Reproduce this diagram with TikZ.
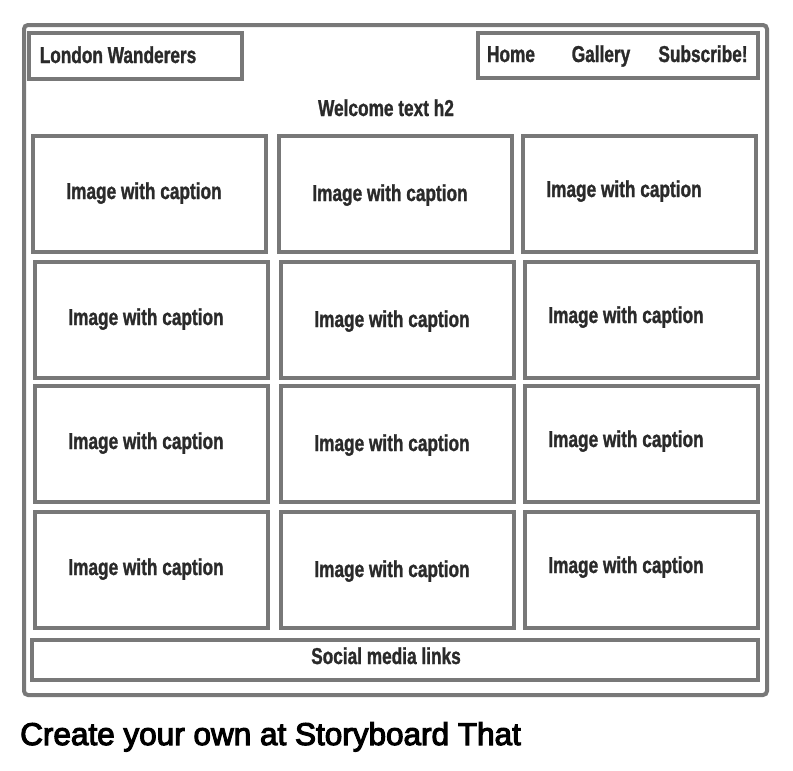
\documentclass[tikz,border=0pt]{standalone}
\usepackage{fontspec}
\setmainfont{Liberation Sans}
\newfontfamily\condfont[FakeStretch=0.75,FakeBold=1.2]{Liberation Sans Bold}
\newfontfamily\footfont[FakeBold=3.5]{Liberation Sans}
\definecolor{frame}{HTML}{787878}
\definecolor{ink}{HTML}{2A2A2A}
\tikzset{
  box/.style={draw=frame, line width=4pt, inner sep=0pt, fill=white},
  boxtext/.style={font=\condfont\fontsize{23}{23}\selectfont, text=ink, inner sep=0pt, anchor=base},
}
\newcommand{\pbox}[5]{% name, x1,y1,x2,y2
  \node[box, minimum width={(#4-#2)*1pt}, minimum height={(#5-#3)*1pt}] (#1) at ({(#2+#4)/2}, {(#3+#5)/2}) {};}
\begin{document}
\begin{tikzpicture}[x=1pt, y=-1pt]
\useasboundingbox (0,0) rectangle (793,771);
\fill[white] (0,0) rectangle (793,771);
% outer frame
\draw[draw=frame, line width=4pt, rounded corners=4pt] (24,25) rectangle (767,695);
\pbox{logo}{29}{33}{242}{79}
\pbox{nav}{478}{33}{758}{78}
\node[boxtext] (logot) at (118,63) {London Wanderers};
\node[boxtext] (home) at (511,62) {Home};
\node[boxtext] (gallery) at (601,62) {Gallery};
\node[boxtext] (subscribe) at (703,62) {Subscribe!};
\node[boxtext] (welcome) at (386,116) {Welcome text h2};
% row 1
\pbox{c11}{33}{136}{266}{252}
\pbox{c12}{279}{136}{512}{252}
\pbox{c13}{523}{136}{756}{252}
\node[boxtext] (t11) at (144,199) {Image with caption};
\node[boxtext] (t12) at (390,201) {Image with caption};
\node[boxtext] (t13) at (624,197) {Image with caption};
% row 2
\pbox{c21}{35}{262}{268}{378}
\pbox{c22}{281}{262}{514}{378}
\pbox{c23}{525}{262}{758}{378}
\node[boxtext] (t21) at (146,325) {Image with caption};
\node[boxtext] (t22) at (392,327) {Image with caption};
\node[boxtext] (t23) at (626,323) {Image with caption};
% row 3
\pbox{c31}{35}{386}{268}{502}
\pbox{c32}{281}{386}{514}{502}
\pbox{c33}{525}{386}{758}{502}
\node[boxtext] (t31) at (146,449) {Image with caption};
\node[boxtext] (t32) at (392,451) {Image with caption};
\node[boxtext] (t33) at (626,447) {Image with caption};
% row 4
\pbox{c41}{35}{512}{268}{628}
\pbox{c42}{281}{512}{514}{628}
\pbox{c43}{525}{512}{758}{628}
\node[boxtext] (t41) at (146,575) {Image with caption};
\node[boxtext] (t42) at (392,577) {Image with caption};
\node[boxtext] (t43) at (626,573) {Image with caption};
% social
\pbox{social}{32}{640}{758}{680}
\node[boxtext] (socialt) at (386,664) {Social media links};
% footer
\node[font=\footfont\fontsize{31.5}{32}\selectfont, text=black, anchor=base west, inner sep=0pt] (foot) at (20,745) {Create your own at Storyboard That};
\end{tikzpicture}
\end{document}
